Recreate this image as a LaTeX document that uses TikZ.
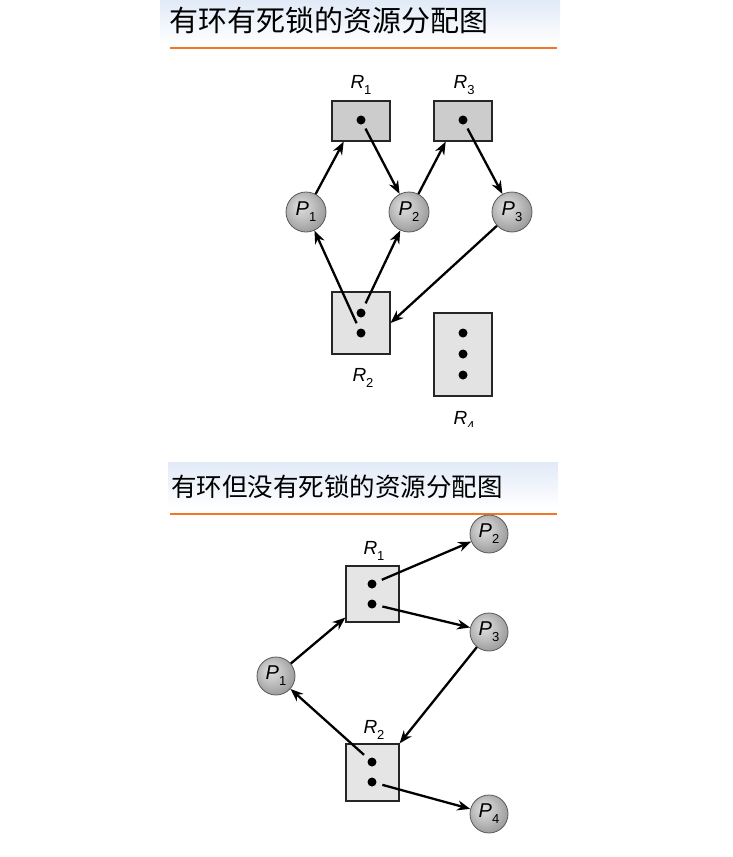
\documentclass[tikz,border=0pt]{standalone}
\usepackage{fontspec}
\setmainfont{Liberation Sans}
\newfontfamily\cjk{Noto Sans CJK SC}
\usetikzlibrary{arrows.meta,calc}
\definecolor{ballA}{gray}{0.88}
\definecolor{ballB}{gray}{0.76}
\definecolor{ballC}{gray}{0.62}
\definecolor{hdr}{RGB}{225,234,247}
\definecolor{orangeline}{RGB}{240,118,40}
\pgfdeclareradialshading{pball}{\pgfpoint{-8bp}{8bp}}{color(0bp)=(ballA); color(14bp)=(ballB); color(28bp)=(ballC); color(50bp)=(ballC)}
\newcommand\mylab[2]{\textit{#1}\raisebox{-0.55ex}{\fontsize{13}{13}\selectfont #2}}
\tikzset{
  res/.style={draw=black!85, line width=1.2pt, inner sep=0pt},
  proc/.style={circle, draw=black!65, line width=0.8pt, minimum size=40pt, inner sep=0pt, shading=pball, font=\fontsize{20}{20}\selectfont},
  tok/.style={circle, fill=black, minimum size=9pt, inner sep=0pt},
  arr/.style={line width=2.3pt, -{Stealth[length=13pt,width=10pt]}},
  rlbl/.style={font=\fontsize{19}{19}\selectfont},
  title/.style={anchor=west, inner sep=0pt},
}
\begin{document}
\begin{tikzpicture}[x=1pt,y=-1pt]
\useasboundingbox (0,0) rectangle (732,857);
% ---------- header 1 ----------
\shade[top color=hdr, bottom color=white] (160,0) rectangle (560,44);
\node[title, font=\cjk\fontsize{29}{29}\selectfont] (T1) at (169,20) {有环有死锁的资源分配图};
\draw[orangeline, line width=2.6pt] (170,48) -- (557,48);
% ---------- diagram 1 ----------
\node[res, fill=gray!40, minimum width=58pt, minimum height=40pt] (R1) at (361,121) {};
\node[res, fill=gray!40, minimum width=58pt, minimum height=40pt] (R3) at (463,121) {};
\node[res, fill=gray!22, minimum width=58pt, minimum height=62pt] (R2) at (361,323) {};
\node[res, fill=gray!22, minimum width=58pt, minimum height=83pt] (R4) at (463,354.5) {};
\node[tok] (r1d) at (361,120) {};
\node[tok] (r3d) at (463,120) {};
\node[tok] (r2a) at (361,313) {};
\node[tok] (r2b) at (361,333) {};
\node[tok] (r4a) at (463,333) {};
\node[tok] (r4b) at (463,354) {};
\node[tok] (r4c) at (463,375) {};
\node[rlbl] (LR1) at (361,85) {\mylab{R}{1}};
\node[rlbl] (LR3) at (464,85) {\mylab{R}{3}};
\node[rlbl] (LR2) at (363,378) {\mylab{R}{2}};
\begin{scope}
\clip (0,0) rectangle (732,426);
\node[rlbl] (LR4) at (464,421) {\mylab{R}{4}};
\end{scope}
\node[proc] (P1) at (306,212) {\mylab{P}{1}};
\node[proc] (P2) at (409,212) {\mylab{P}{2}};
\node[proc] (P3) at (512,212) {\mylab{P}{3}};
\draw[arr] (P1) -- (R1.230);
\draw[arr, shorten <=5pt] (r1d) -- (P2);
\draw[arr] (P2) -- (R3.230);
\draw[arr, shorten <=5pt] (r3d) -- (P3);
\draw[arr, shorten <=6pt] (r2b) -- (P1);
\draw[arr, shorten <=6pt] (r2a) -- (P2);
\draw[arr] (P3) -- (R2.east);
% ---------- header 2 ----------
\shade[top color=hdr, bottom color=white] (168,462) rectangle (558,508);
\node[title, font=\cjk\fontsize{25.5}{25.5}\selectfont] (T2) at (171,487) {有环但没有死锁的资源分配图};
\draw[orangeline, line width=2.2pt] (170,514) -- (557,514);
% ---------- diagram 2 ----------
\node[res, fill=gray!20, minimum width=53pt, minimum height=56pt] (Q1) at (372.5,594) {};
\node[res, fill=gray!20, minimum width=53pt, minimum height=57pt] (Q2) at (372.5,772.5) {};
\node[tok] (q1a) at (372,584) {};
\node[tok] (q1b) at (372,604) {};
\node[tok] (q2a) at (372,762) {};
\node[tok] (q2b) at (372,782) {};
\node[rlbl] (LQ1) at (374,551) {\mylab{R}{1}};
\node[rlbl] (LQ2) at (374,730) {\mylab{R}{2}};
\node[proc, minimum size=38pt] (S1) at (276,676) {\mylab{P}{1}};
\node[proc, minimum size=38pt] (S2) at (489,534) {\mylab{P}{2}};
\node[proc, minimum size=38pt] (S3) at (489,632) {\mylab{P}{3}};
\node[proc, minimum size=38pt] (S4) at (489,814) {\mylab{P}{4}};
\draw[arr] (S1) -- (Q1.221);
\draw[arr, shorten <=6pt] (q1a) -- (S2);
\draw[arr, shorten <=6pt] (q1b) -- (S3);
\draw[arr] (S3) -- (Q2.north east);
\draw[arr, shorten <=6pt] (q2a) -- (S1);
\draw[arr, shorten <=6pt] (q2b) -- (S4);
\end{tikzpicture}
\end{document}
